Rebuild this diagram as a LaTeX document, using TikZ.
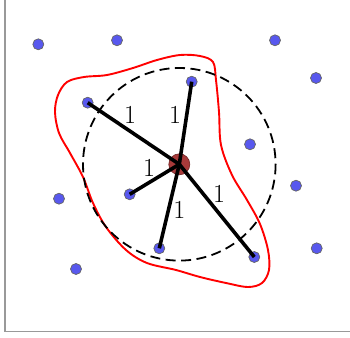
\documentclass[tikz,border=0pt]{standalone}
\definecolor{hubred}{RGB}{168,58,58}
\definecolor{dotblue}{RGB}{88,88,238}
\begin{document}
\begin{tikzpicture}[x=1pt,y=-1pt,
  dot/.style={circle,draw=black!60,line width=0.7pt,fill=dotblue,minimum size=11pt,inner sep=0pt},
  hub/.style={circle,draw=hubred!70!black,line width=0.7pt,fill=hubred,minimum size=21pt,inner sep=0pt},
  edge/.style={line width=3.6pt,black},
  wlabel/.style={font=\fontsize{26}{30}\selectfont,inner sep=0pt},
  frame/.style={draw=black!40,line width=1.2pt}]
\useasboundingbox (0,0) rectangle (350,337);
\coordinate (ftop) at (5,0);
\coordinate (fcorner) at (5,331.5);
\coordinate (fright) at (350,331.5);
\draw[frame] (ftop) -- (fcorner) -- (fright);
% red blob
\draw[red,line width=1.9pt] plot[smooth cycle,tension=0.55] coordinates {
 (213,62) (216,80) (219,112) (221,145) (232,175) (247,200) (260,224) (268,250)
 (269,270) (262,283) (248,287) (226,283) (200,277) (176,270) (147,263) (126,250)
 (106,227) (93,203) (83,177) (70,153) (59,133) (55,112) (58,95) (67,82)
 (84,77) (107,75) (133,68) (157,60) (180,55) (200,56)};
% dots
\node[dot] (p1) at (38.3,44.3) {};
\node[dot] (p2) at (117,40.3) {};
\node[dot] (p3) at (275,40.3) {};
\node[dot] (p4) at (316,78) {};
\node[dot] (a) at (87.7,102.7) {};
\node[dot] (b) at (191.7,81.7) {};
\node[dot] (p5) at (250,144.3) {};
\node[dot] (p6) at (296,185.7) {};
\node[dot] (p7) at (59,198.7) {};
\node[dot] (c) at (129.7,194.3) {};
\node[dot] (d) at (159.3,248.3) {};
\node[dot] (e) at (254.3,257) {};
\node[dot] (p8) at (316.7,248.3) {};
\node[dot] (p9) at (76,269) {};
\node[hub] (h) at (179.3,164.3) {};
% dashed circle
\draw[dash pattern=on 10pt off 5.5pt,line width=1.8pt] (h.center) circle[radius=96.3];
% edges
\draw[edge] (h.center) -- (a.center);
\draw[edge] (h.center) -- (b.center);
\draw[edge] (h.center) -- (c.center);
\draw[edge] (h.center) -- (d.center);
\draw[edge] (h.center) -- (e.center);
% labels
\node[wlabel] (la) at (130,115) {1};
\node[wlabel] (lb) at (175,115) {1};
\node[wlabel] (lc) at (149,168.3) {1};
\node[wlabel] (ld) at (179.3,210) {1};
\node[wlabel] (le) at (219,194.3) {1};
\end{tikzpicture}
\end{document}
